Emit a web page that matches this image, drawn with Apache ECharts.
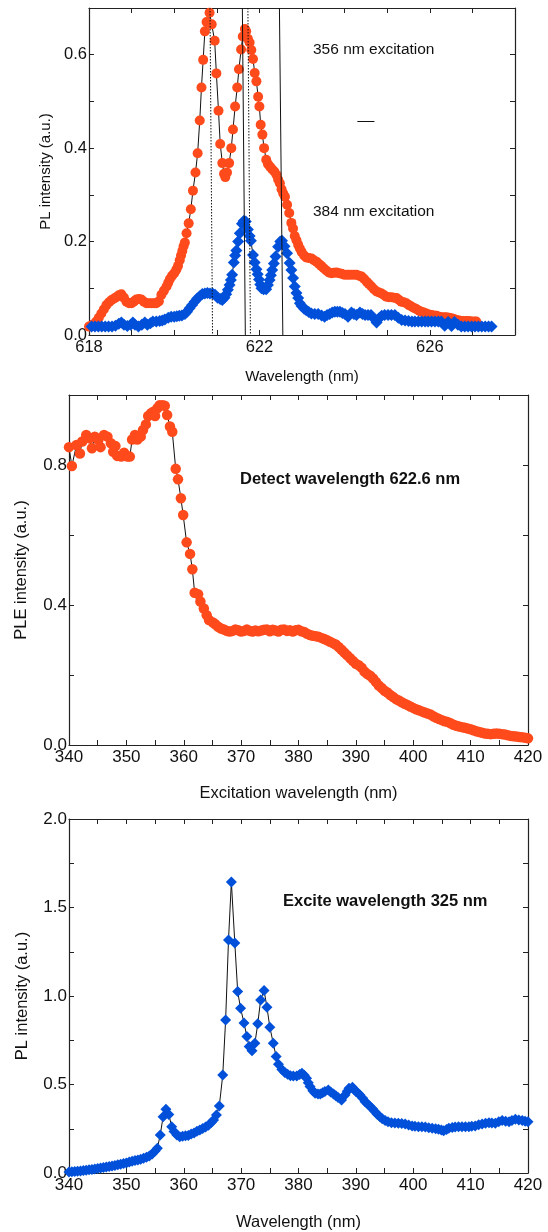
<!DOCTYPE html>
<html>
<head>
<meta charset="utf-8">
<script src="https://cdn.jsdelivr.net/npm/echarts@6/dist/echarts.min.js"></script>
<style>
html,body{margin:0;padding:0;background:#fff;}
#chart{width:548px;height:1232px;}
</style>
</head>
<body>
<div id="chart"></div>
<script>
// ---------- Data ----------
// Panel 1: PL spectra, [wavelength nm, intensity a.u.]
const pl356 = [[618.00,0.018],[618.08,0.022],[618.17,0.029],[618.23,0.037],[618.29,0.046],[618.35,0.055],[618.41,0.064],[618.47,0.070],[618.53,0.075],[618.59,0.078],[618.64,0.081],[618.70,0.085],[618.76,0.087],[618.82,0.080],[618.88,0.071],[618.94,0.068],[619.00,0.068],[619.06,0.072],[619.11,0.076],[619.17,0.077],[619.23,0.076],[619.29,0.071],[619.35,0.068],[619.41,0.068],[619.47,0.068],[619.53,0.068],[619.58,0.068],[619.64,0.072],[619.70,0.086],[619.76,0.095],[619.82,0.104],[619.86,0.112],[619.90,0.120],[619.95,0.127],[620.00,0.132],[620.05,0.140],[620.09,0.148],[620.13,0.160],[620.16,0.170],[620.19,0.180],[620.22,0.190],[620.25,0.198],[620.29,0.218],[620.34,0.239],[620.39,0.269],[620.44,0.309],[620.50,0.348],[620.55,0.389],[620.60,0.459],[620.64,0.530],[620.68,0.589],[620.72,0.650],[620.76,0.670],[620.83,0.690],[620.88,0.665],[620.95,0.630],[620.99,0.560],[621.04,0.480],[621.08,0.409],[621.13,0.368],[621.17,0.345],[621.20,0.338],[621.24,0.348],[621.29,0.368],[621.34,0.400],[621.38,0.440],[621.43,0.489],[621.48,0.530],[621.52,0.569],[621.57,0.611],[621.61,0.639],[621.66,0.655],[621.69,0.650],[621.73,0.634],[621.77,0.626],[621.81,0.610],[621.85,0.591],[621.89,0.561],[621.93,0.543],[621.97,0.510],[622.00,0.489],[622.03,0.450],[622.07,0.429],[622.11,0.400],[622.16,0.375],[622.20,0.366],[622.25,0.360],[622.30,0.355],[622.35,0.350],[622.40,0.343],[622.44,0.333],[622.48,0.325],[622.52,0.312],[622.56,0.303],[622.60,0.296],[622.65,0.279],[622.70,0.261],[622.75,0.240],[622.79,0.228],[622.83,0.212],[622.87,0.203],[622.91,0.193],[622.95,0.185],[622.99,0.178],[623.05,0.170],[623.10,0.166],[623.16,0.165],[623.22,0.164],[623.28,0.160],[623.34,0.157],[623.40,0.152],[623.45,0.148],[623.51,0.143],[623.57,0.138],[623.63,0.134],[623.69,0.132],[623.75,0.133],[623.81,0.134],[623.87,0.132],[623.93,0.131],[623.99,0.129],[624.05,0.129],[624.10,0.129],[624.16,0.129],[624.22,0.129],[624.28,0.129],[624.34,0.127],[624.40,0.125],[624.46,0.120],[624.52,0.114],[624.57,0.109],[624.63,0.104],[624.69,0.098],[624.75,0.093],[624.81,0.091],[624.87,0.089],[624.93,0.085],[624.98,0.082],[625.04,0.081],[625.10,0.081],[625.16,0.080],[625.22,0.079],[625.28,0.075],[625.33,0.071],[625.39,0.070],[625.45,0.068],[625.51,0.064],[625.57,0.061],[625.63,0.058],[625.69,0.055],[625.75,0.052],[625.80,0.050],[625.86,0.048],[625.92,0.046],[625.98,0.044],[626.04,0.043],[626.10,0.042],[626.16,0.041],[626.22,0.039],[626.27,0.038],[626.33,0.038],[626.39,0.038],[626.45,0.037],[626.51,0.036],[626.57,0.034],[626.63,0.032],[626.69,0.031],[626.74,0.030],[626.80,0.030],[626.86,0.030],[626.92,0.030],[626.98,0.029],[627.04,0.029],[627.09,0.029]];

const pl384 = [[617.98,0.018],[618.06,0.018],[618.14,0.018],[618.22,0.018],[618.30,0.018],[618.38,0.018],[618.46,0.018],[618.54,0.018],[618.62,0.020],[618.70,0.024],[618.76,0.027],[618.82,0.022],[618.90,0.019],[618.98,0.022],[619.03,0.027],[619.08,0.022],[619.16,0.018],[619.24,0.022],[619.31,0.027],[619.37,0.022],[619.44,0.025],[619.50,0.029],[619.58,0.029],[619.66,0.030],[619.72,0.031],[619.78,0.033],[619.86,0.037],[619.93,0.039],[620.00,0.039],[620.06,0.040],[620.12,0.041],[620.18,0.042],[620.25,0.045],[620.30,0.050],[620.36,0.057],[620.42,0.064],[620.48,0.071],[620.54,0.078],[620.60,0.083],[620.66,0.088],[620.72,0.089],[620.78,0.090],[620.84,0.089],[620.90,0.089],[620.96,0.086],[621.02,0.080],[621.08,0.077],[621.13,0.075],[621.18,0.080],[621.22,0.087],[621.26,0.097],[621.30,0.107],[621.33,0.118],[621.36,0.129],[621.40,0.155],[621.43,0.170],[621.46,0.181],[621.50,0.200],[621.54,0.218],[621.59,0.238],[621.63,0.244],[621.68,0.243],[621.73,0.226],[621.77,0.212],[621.80,0.202],[621.85,0.171],[621.89,0.155],[621.93,0.141],[621.96,0.130],[621.99,0.119],[622.02,0.108],[622.05,0.100],[622.10,0.098],[622.16,0.098],[622.20,0.107],[622.24,0.118],[622.27,0.128],[622.30,0.139],[622.34,0.153],[622.38,0.168],[622.44,0.189],[622.49,0.200],[622.53,0.202],[622.59,0.190],[622.65,0.175],[622.71,0.154],[622.75,0.139],[622.79,0.122],[622.83,0.104],[622.87,0.090],[622.91,0.079],[622.95,0.068],[622.99,0.062],[623.05,0.056],[623.10,0.053],[623.16,0.049],[623.22,0.046],[623.30,0.045],[623.38,0.045],[623.46,0.042],[623.53,0.039],[623.59,0.043],[623.65,0.045],[623.71,0.048],[623.77,0.050],[623.83,0.050],[623.89,0.050],[623.95,0.047],[624.01,0.045],[624.08,0.039],[624.16,0.048],[624.22,0.045],[624.28,0.043],[624.36,0.048],[624.42,0.045],[624.48,0.043],[624.55,0.043],[624.62,0.043],[624.68,0.036],[624.75,0.027],[624.81,0.036],[624.87,0.041],[624.94,0.043],[625.02,0.043],[625.10,0.043],[625.18,0.043],[625.26,0.037],[625.34,0.032],[625.42,0.031],[625.50,0.030],[625.58,0.029],[625.65,0.029],[625.73,0.029],[625.81,0.029],[625.89,0.029],[625.96,0.029],[626.04,0.029],[626.12,0.029],[626.20,0.029],[626.27,0.029],[626.35,0.020],[626.43,0.028],[626.51,0.019],[626.58,0.028],[626.66,0.022],[626.74,0.018],[626.82,0.018],[626.90,0.018],[626.98,0.018],[627.06,0.018],[627.14,0.018],[627.22,0.018],[627.30,0.018],[627.38,0.018],[627.45,0.018]];

// guide lines drawn in panel 1 (wavelength at top edge, wavelength at bottom edge)
const guideDotted = [[620.84,620.90],[621.73,621.79]];
const guideSolid = [[621.60,621.67],[622.47,622.55]];
const dashMark = [624.30,624.70,0.458];

// Panel 2: PLE spectrum, [excitation wavelength nm, intensity a.u.]
const ple = [[340.0,0.851],[340.5,0.797],[341.3,0.857],[341.9,0.833],[342.3,0.867],[343.0,0.886],[343.6,0.876],[344.0,0.848],[344.5,0.881],[345.1,0.871],[345.5,0.851],[346.1,0.886],[346.7,0.881],[347.3,0.862],[347.7,0.838],[348.1,0.854],[348.4,0.826],[349.1,0.824],[349.6,0.835],[350.2,0.824],[350.6,0.824],[351.0,0.873],[351.5,0.886],[351.9,0.873],[352.5,0.881],[352.9,0.900],[353.4,0.916],[353.8,0.940],[354.3,0.948],[354.7,0.952],[355.0,0.940],[355.4,0.962],[355.8,0.971],[356.3,0.971],[356.7,0.969],[357.1,0.943],[357.6,0.910],[358.0,0.895],[358.6,0.789],[359.0,0.759],[359.5,0.705],[359.9,0.657],[360.5,0.579],[361.1,0.546],[361.5,0.502],[361.9,0.435],[362.5,0.431],[362.9,0.410],[363.5,0.390],[364.0,0.371],[364.4,0.357],[365.1,0.350],[365.5,0.345],[366.0,0.338],[366.5,0.333],[367.0,0.330],[367.5,0.326],[368.0,0.324],[368.5,0.326],[369.0,0.330],[369.5,0.328],[370.0,0.324],[370.5,0.326],[371.0,0.330],[371.5,0.326],[372.0,0.324],[372.5,0.327],[373.0,0.325],[373.5,0.327],[374.0,0.329],[374.5,0.330],[375.0,0.325],[375.5,0.329],[376.0,0.327],[376.5,0.324],[377.0,0.329],[377.5,0.330],[378.0,0.326],[378.5,0.328],[379.0,0.324],[379.5,0.328],[380.0,0.329],[380.5,0.325],[381.0,0.323],[381.5,0.318],[382.0,0.314],[382.5,0.312],[383.0,0.311],[383.5,0.309],[384.0,0.306],[384.5,0.303],[385.0,0.299],[385.5,0.295],[386.0,0.291],[386.5,0.287],[387.0,0.280],[387.5,0.272],[388.0,0.264],[388.5,0.256],[389.0,0.248],[389.5,0.240],[390.0,0.232],[390.5,0.228],[391.0,0.221],[391.5,0.210],[392.0,0.203],[392.5,0.198],[393.0,0.190],[393.5,0.180],[394.0,0.170],[394.5,0.163],[395.0,0.155],[395.5,0.150],[396.0,0.143],[396.5,0.137],[397.0,0.131],[397.5,0.127],[398.0,0.122],[398.5,0.118],[399.0,0.114],[399.5,0.110],[400.0,0.106],[400.5,0.102],[401.0,0.099],[401.5,0.096],[402.0,0.093],[402.5,0.090],[403.0,0.087],[403.5,0.082],[404.0,0.078],[404.5,0.074],[405.0,0.071],[405.5,0.068],[406.0,0.066],[406.5,0.062],[407.0,0.058],[407.5,0.055],[408.0,0.053],[408.5,0.051],[409.0,0.049],[409.5,0.047],[410.0,0.045],[410.5,0.042],[411.0,0.039],[411.5,0.037],[412.0,0.035],[412.5,0.033],[413.0,0.032],[413.5,0.031],[414.0,0.032],[414.5,0.033],[415.0,0.032],[415.5,0.031],[416.0,0.030],[416.5,0.028],[417.0,0.026],[417.5,0.025],[418.0,0.024],[418.5,0.023],[419.0,0.022],[419.5,0.021],[420.0,0.019]];

// Panel 3: PL spectrum under 325 nm excitation, [wavelength nm, intensity a.u.]
const pl325 = [[340.0,0.005],[340.5,0.007],[341.0,0.009],[341.5,0.010],[342.0,0.012],[342.5,0.014],[343.0,0.016],[343.5,0.018],[344.0,0.020],[344.5,0.022],[345.0,0.025],[345.5,0.028],[346.0,0.031],[346.5,0.034],[347.0,0.037],[347.5,0.040],[348.0,0.043],[348.5,0.046],[349.0,0.049],[349.5,0.053],[350.0,0.057],[350.5,0.062],[351.0,0.066],[351.5,0.070],[352.0,0.074],[352.5,0.078],[353.0,0.083],[353.5,0.089],[354.0,0.096],[354.5,0.108],[355.0,0.125],[355.4,0.140],[355.9,0.215],[356.4,0.318],[356.9,0.360],[357.4,0.330],[357.9,0.262],[358.3,0.235],[358.8,0.215],[359.3,0.205],[359.8,0.207],[360.3,0.210],[360.8,0.212],[361.3,0.220],[361.8,0.226],[362.3,0.236],[362.8,0.243],[363.3,0.252],[363.8,0.260],[364.3,0.270],[364.8,0.285],[365.2,0.300],[365.7,0.328],[366.2,0.379],[366.8,0.554],[367.3,0.865],[367.8,1.317],[368.3,1.644],[368.9,1.299],[369.4,1.025],[369.9,0.931],[370.5,0.848],[371.0,0.771],[371.4,0.714],[371.9,0.690],[372.4,0.733],[372.9,0.843],[373.4,0.978],[374.0,1.031],[374.5,0.937],[375.0,0.824],[375.6,0.733],[376.1,0.658],[376.5,0.615],[377.1,0.585],[377.6,0.568],[378.1,0.558],[378.6,0.550],[379.1,0.548],[379.7,0.548],[380.2,0.556],[380.6,0.564],[381.0,0.552],[381.4,0.535],[381.7,0.510],[382.0,0.488],[382.5,0.465],[382.9,0.450],[383.4,0.446],[383.8,0.447],[384.2,0.453],[384.6,0.460],[385.2,0.469],[385.6,0.458],[386.1,0.447],[386.5,0.436],[386.9,0.426],[387.5,0.413],[388.1,0.441],[388.5,0.462],[388.8,0.479],[389.4,0.485],[389.7,0.472],[390.0,0.460],[390.4,0.450],[390.7,0.441],[391.2,0.422],[391.6,0.403],[392.0,0.391],[392.4,0.379],[392.9,0.363],[393.3,0.347],[393.7,0.332],[394.2,0.318],[394.6,0.306],[395.1,0.296],[395.6,0.290],[396.2,0.284],[396.8,0.282],[397.4,0.281],[398.0,0.279],[398.6,0.277],[399.2,0.271],[399.8,0.266],[400.3,0.264],[400.9,0.262],[401.5,0.261],[402.1,0.260],[402.7,0.256],[403.3,0.253],[403.9,0.250],[404.4,0.247],[404.9,0.243],[405.3,0.239],[405.8,0.246],[406.2,0.253],[406.8,0.257],[407.3,0.260],[407.9,0.261],[408.5,0.262],[409.1,0.262],[409.7,0.262],[410.2,0.264],[410.8,0.266],[411.4,0.272],[412.0,0.277],[412.6,0.281],[413.2,0.284],[413.7,0.282],[414.3,0.281],[414.9,0.289],[415.5,0.296],[416.1,0.293],[416.7,0.290],[417.2,0.297],[417.8,0.303],[418.4,0.300],[419.0,0.296],[419.5,0.293],[420.0,0.290]];

// Tick/label settings
const panel1X = {min:618, max:628, step:1, labelEvery:4};
const panel1Y = {min:0, max:0.7, step:0.1, labelEvery:2};
const panel23X = {min:340, max:420, step:5, labelEvery:2};
const panel2Y = {min:0, max:1.0, step:0.2, labelEvery:2};
const panel3Y = {min:0, max:2.0, step:0.25, labelEvery:2};

// ---------- Styles ----------
const RED = '#FF4A1C';
const BLUE = '#0050DA';
const FONT = '"Liberation Sans", Arial, Helvetica, sans-serif';
const AXC = '#222';

function labelFmt(cfg, decimals) {
  return function (v) {
    const k = Math.round((v - cfg.min) / cfg.step);
    if (k % cfg.labelEvery !== 0) return '';
    return decimals ? v.toFixed(decimals) : String(Math.round(v));
  };
}

function mainX(grid, cfg, name, fs, gap, nfs) {
  return {
    type:'value', gridIndex:grid, position:'bottom', min:cfg.min, max:cfg.max, interval:cfg.step,
    name:name, nameLocation:'middle', nameGap:gap,
    nameTextStyle:{fontFamily:FONT, fontSize:nfs, color:'#111'},
    axisLine:{show:true, onZero:false, lineStyle:{color:AXC, width:1.2}},
    axisTick:{show:true, inside:true, length:5, lineStyle:{color:AXC, width:1}},
    axisLabel:{show:true, margin:4, fontFamily:FONT, fontSize:fs, color:'#111', formatter:labelFmt(cfg,0), showMinLabel:true, showMaxLabel:true},
    splitLine:{show:false}
  };
}
function mirrorX(grid, cfg) {
  return {
    type:'value', gridIndex:grid, position:'top', min:cfg.min, max:cfg.max, interval:cfg.step,
    axisLine:{show:true, onZero:false, lineStyle:{color:AXC, width:1.2}},
    axisTick:{show:true, inside:true, length:5, lineStyle:{color:AXC, width:1}},
    axisLabel:{show:false}, splitLine:{show:false}
  };
}
function mainY(grid, cfg, name, fs, gap, nfs) {
  return {
    type:'value', gridIndex:grid, position:'left', min:cfg.min, max:cfg.max, interval:cfg.step,
    name:name, nameLocation:'middle', nameGap:gap, nameRotate:90,
    nameTextStyle:{fontFamily:FONT, fontSize:nfs, color:'#111'},
    axisLine:{show:true, onZero:false, lineStyle:{color:AXC, width:1.2}},
    axisTick:{show:true, inside:true, length:5, lineStyle:{color:AXC, width:1}},
    axisLabel:{show:true, margin:2, fontFamily:FONT, fontSize:fs, color:'#111', formatter:labelFmt(cfg,1), showMinLabel:true, showMaxLabel:true},
    splitLine:{show:false}
  };
}
function mirrorY(grid, cfg) {
  return {
    type:'value', gridIndex:grid, position:'right', min:cfg.min, max:cfg.max, interval:cfg.step,
    axisLine:{show:true, onZero:false, lineStyle:{color:AXC, width:1.2}},
    axisTick:{show:true, inside:true, length:5, lineStyle:{color:AXC, width:1}},
    axisLabel:{show:false}, splitLine:{show:false}
  };
}

const guideLines = [];
guideDotted.forEach(function (g) {
  guideLines.push([{coord:[g[0], panel1Y.max], lineStyle:{type:[1.5,1.5], color:'#111', width:1}}, {coord:[g[1], panel1Y.min]}]);
});
guideSolid.forEach(function (g) {
  guideLines.push([{coord:[g[0], panel1Y.max], lineStyle:{type:'solid', color:'#111', width:1}}, {coord:[g[1], panel1Y.min]}]);
});
guideLines.push([{coord:[dashMark[0], dashMark[2]], lineStyle:{type:'solid', color:'#111', width:1}}, {coord:[dashMark[1], dashMark[2]]}]);

const chart = echarts.init(document.getElementById('chart'), null, {renderer:'canvas'});
chart.setOption({
  animation:false,
  backgroundColor:'#fff',
  grid:[
    {left:89, top:8, width:426, height:327},
    {left:69, top:395, width:459, height:350},
    {left:69, top:819, width:459, height:354}
  ],
  xAxis:[
    mainX(0, panel1X, 'Wavelength (nm)', 16.5, 34, 15),
    mainX(1, panel23X, 'Excitation wavelength (nm)', 17, 40, 16.5),
    mainX(2, panel23X, 'Wavelength (nm)', 17, 41, 16.5),
    mirrorX(0, panel1X), mirrorX(1, panel23X), mirrorX(2, panel23X)
  ],
  yAxis:[
    mainY(0, panel1Y, 'PL intensity (a.u.)', 16.5, 35, 15),
    mainY(1, panel2Y, 'PLE intensity (a.u.)', 17, 39, 16.5),
    mainY(2, panel3Y, 'PL intensity (a.u.)', 17, 38, 16.5),
    mirrorY(0, panel1Y), mirrorY(1, panel2Y), mirrorY(2, panel3Y)
  ],
  series:[
    {type:'line', name:'guides', xAxisIndex:0, yAxisIndex:0, data:[], silent:true,
     markLine:{silent:true, symbol:['none','none'], label:{show:false}, data:guideLines, animation:false}},
    {type:'line', name:'356 nm excitation', xAxisIndex:0, yAxisIndex:0, data:pl356,
     symbol:'circle', symbolSize:10, itemStyle:{color:RED}, lineStyle:{color:'#111', width:1}},
    {type:'line', name:'384 nm excitation', xAxisIndex:0, yAxisIndex:0, data:pl384,
     symbol:'diamond', symbolSize:12, itemStyle:{color:BLUE}, lineStyle:{color:'#111', width:1}},
    {type:'line', name:'PLE', xAxisIndex:1, yAxisIndex:1, data:ple,
     symbol:'circle', symbolSize:10.5, itemStyle:{color:RED}, lineStyle:{color:'#111', width:1}},
    {type:'line', name:'PL 325', xAxisIndex:2, yAxisIndex:2, data:pl325,
     symbol:'diamond', symbolSize:11, itemStyle:{color:BLUE}, lineStyle:{color:'#111', width:1}}
  ],
  graphic:[
    {type:'text', left:313, top:42, style:{text:'356 nm excitation', font:'15.5px ' + FONT, fill:'#111'}},
    {type:'text', left:313, top:204, style:{text:'384 nm excitation', font:'15.5px ' + FONT, fill:'#111'}},
    {type:'text', left:240, top:471, style:{text:'Detect wavelength 622.6 nm', font:'bold 16.5px ' + FONT, fill:'#111'}},
    {type:'text', left:283, top:893, style:{text:'Excite wavelength 325 nm', font:'bold 16.5px ' + FONT, fill:'#111'}}
  ]
});
</script>
</body>
</html>
